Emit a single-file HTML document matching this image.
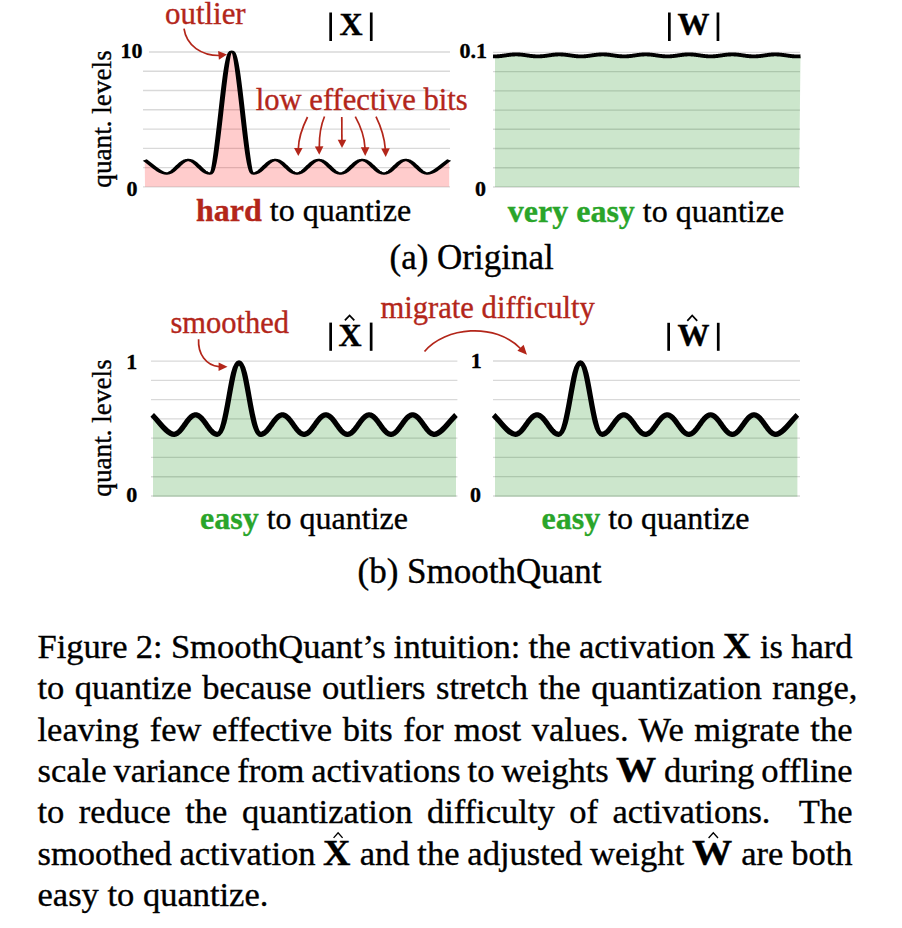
<!DOCTYPE html><html><head><meta charset="utf-8"><style>html,body{margin:0;padding:0;background:#fff;width:902px;height:928px;overflow:hidden}
svg.main{position:absolute;left:0;top:0}
text{font-family:"Liberation Serif",serif}
.cap{position:absolute;left:37.5px;font-family:"Liberation Serif",serif;font-size:34.5px;line-height:0;height:0;white-space:nowrap;color:#000;-webkit-text-stroke:0.35px #000}
.mb{display:inline-block;position:relative;font-weight:bold;font-size:36px;line-height:0;text-indent:0}
.mb .g{display:inline-block;transform-origin:0 0}
.hat{position:absolute;overflow:visible}
</style></head><body>
<svg class="main" width="902" height="928" viewBox="0 0 902 928">
<g stroke="#d9d9d9" stroke-width="1.3"><line x1="149.0" y1="52.00" x2="450.0" y2="52.00"/><line x1="143.0" y1="71.26" x2="450.0" y2="71.26"/><line x1="143.0" y1="90.51" x2="450.0" y2="90.51"/><line x1="143.0" y1="109.77" x2="450.0" y2="109.77"/><line x1="143.0" y1="129.03" x2="450.0" y2="129.03"/><line x1="143.0" y1="148.29" x2="450.0" y2="148.29"/><line x1="143.0" y1="167.54" x2="450.0" y2="167.54"/><line x1="143.0" y1="186.80" x2="450.0" y2="186.80"/></g>
<path d="M144.70,160.00 C150.14,163.38 159.20,173.50 166.45,173.50 L166.45,173.50 L166.95,173.48 L167.45,173.43 L167.95,173.34 L168.45,173.22 L168.95,173.06 L169.45,172.88 L169.95,172.66 L170.45,172.40 L170.95,172.12 L171.45,171.81 L171.95,171.48 L172.45,171.12 L172.95,170.74 L173.45,170.33 L173.95,169.91 L174.45,169.47 L174.95,169.02 L175.45,168.56 L175.95,168.08 L176.45,167.60 L176.95,167.12 L177.45,166.63 L177.95,166.14 L178.45,165.66 L178.95,165.18 L179.45,164.71 L179.95,164.25 L180.45,163.81 L180.95,163.38 L181.45,162.96 L181.95,162.57 L182.45,162.20 L182.95,161.85 L183.45,161.53 L183.95,161.23 L184.45,160.97 L184.95,160.73 L185.45,160.53 L185.95,160.35 L186.45,160.21 L186.95,160.11 L187.45,160.04 L187.95,160.00 L188.45,160.00 L188.95,160.04 L189.45,160.11 L189.95,160.21 L190.45,160.35 L190.95,160.53 L191.45,160.73 L191.95,160.97 L192.45,161.23 L192.95,161.53 L193.45,161.85 L193.95,162.20 L194.45,162.57 L194.95,162.96 L195.45,163.38 L195.95,163.81 L196.45,164.25 L196.95,164.71 L197.45,165.18 L197.95,165.66 L198.45,166.14 L198.95,166.63 L199.45,167.12 L199.95,167.60 L200.45,168.08 L200.95,168.56 L201.45,169.02 L201.95,169.47 L202.45,169.91 L202.95,170.33 L203.45,170.74 L203.95,171.12 L204.45,171.48 L204.95,171.81 L205.45,172.12 L205.95,172.40 L206.45,172.66 L206.95,172.88 L207.45,173.06 L207.95,173.22 L208.45,173.34 L208.95,173.43 L209.45,173.48 L209.95,173.50 C218.05,173.50 223.60,51.60 231.70,51.60 C239.80,51.60 245.35,173.50 253.45,173.50 L253.45,173.50 L253.95,173.48 L254.45,173.43 L254.95,173.34 L255.45,173.22 L255.95,173.06 L256.45,172.88 L256.95,172.66 L257.45,172.40 L257.95,172.12 L258.45,171.81 L258.95,171.48 L259.45,171.12 L259.95,170.74 L260.45,170.33 L260.95,169.91 L261.45,169.47 L261.95,169.02 L262.45,168.56 L262.95,168.08 L263.45,167.60 L263.95,167.12 L264.45,166.63 L264.95,166.14 L265.45,165.66 L265.95,165.18 L266.45,164.71 L266.95,164.25 L267.45,163.81 L267.95,163.38 L268.45,162.96 L268.95,162.57 L269.45,162.20 L269.95,161.85 L270.45,161.53 L270.95,161.23 L271.45,160.97 L271.95,160.73 L272.45,160.53 L272.95,160.35 L273.45,160.21 L273.95,160.11 L274.45,160.04 L274.95,160.00 L275.45,160.00 L275.95,160.04 L276.45,160.11 L276.95,160.21 L277.45,160.35 L277.95,160.53 L278.45,160.73 L278.95,160.97 L279.45,161.23 L279.95,161.53 L280.45,161.85 L280.95,162.20 L281.45,162.57 L281.95,162.96 L282.45,163.38 L282.95,163.81 L283.45,164.25 L283.95,164.71 L284.45,165.18 L284.95,165.66 L285.45,166.14 L285.95,166.63 L286.45,167.12 L286.95,167.60 L287.45,168.08 L287.95,168.56 L288.45,169.02 L288.95,169.47 L289.45,169.91 L289.95,170.33 L290.45,170.74 L290.95,171.12 L291.45,171.48 L291.95,171.81 L292.45,172.12 L292.95,172.40 L293.45,172.66 L293.95,172.88 L294.45,173.06 L294.95,173.22 L295.45,173.34 L295.95,173.43 L296.45,173.48 L296.95,173.50 L297.45,173.48 L297.95,173.43 L298.45,173.34 L298.95,173.22 L299.45,173.06 L299.95,172.88 L300.45,172.66 L300.95,172.40 L301.45,172.12 L301.95,171.81 L302.45,171.48 L302.95,171.12 L303.45,170.74 L303.95,170.33 L304.45,169.91 L304.95,169.47 L305.45,169.02 L305.95,168.56 L306.45,168.08 L306.95,167.60 L307.45,167.12 L307.95,166.63 L308.45,166.14 L308.95,165.66 L309.45,165.18 L309.95,164.71 L310.45,164.25 L310.95,163.81 L311.45,163.38 L311.95,162.96 L312.45,162.57 L312.95,162.20 L313.45,161.85 L313.95,161.53 L314.45,161.23 L314.95,160.97 L315.45,160.73 L315.95,160.53 L316.45,160.35 L316.95,160.21 L317.45,160.11 L317.95,160.04 L318.45,160.00 L318.95,160.00 L319.45,160.04 L319.95,160.11 L320.45,160.21 L320.95,160.35 L321.45,160.53 L321.95,160.73 L322.45,160.97 L322.95,161.23 L323.45,161.53 L323.95,161.85 L324.45,162.20 L324.95,162.57 L325.45,162.96 L325.95,163.38 L326.45,163.81 L326.95,164.25 L327.45,164.71 L327.95,165.18 L328.45,165.66 L328.95,166.14 L329.45,166.63 L329.95,167.12 L330.45,167.60 L330.95,168.08 L331.45,168.56 L331.95,169.02 L332.45,169.47 L332.95,169.91 L333.45,170.33 L333.95,170.74 L334.45,171.12 L334.95,171.48 L335.45,171.81 L335.95,172.12 L336.45,172.40 L336.95,172.66 L337.45,172.88 L337.95,173.06 L338.45,173.22 L338.95,173.34 L339.45,173.43 L339.95,173.48 L340.45,173.50 L340.95,173.48 L341.45,173.43 L341.95,173.34 L342.45,173.22 L342.95,173.06 L343.45,172.88 L343.95,172.66 L344.45,172.40 L344.95,172.12 L345.45,171.81 L345.95,171.48 L346.45,171.12 L346.95,170.74 L347.45,170.33 L347.95,169.91 L348.45,169.47 L348.95,169.02 L349.45,168.56 L349.95,168.08 L350.45,167.60 L350.95,167.12 L351.45,166.63 L351.95,166.14 L352.45,165.66 L352.95,165.18 L353.45,164.71 L353.95,164.25 L354.45,163.81 L354.95,163.38 L355.45,162.96 L355.95,162.57 L356.45,162.20 L356.95,161.85 L357.45,161.53 L357.95,161.23 L358.45,160.97 L358.95,160.73 L359.45,160.53 L359.95,160.35 L360.45,160.21 L360.95,160.11 L361.45,160.04 L361.95,160.00 L362.45,160.00 L362.95,160.04 L363.45,160.11 L363.95,160.21 L364.45,160.35 L364.95,160.53 L365.45,160.73 L365.95,160.97 L366.45,161.23 L366.95,161.53 L367.45,161.85 L367.95,162.20 L368.45,162.57 L368.95,162.96 L369.45,163.38 L369.95,163.81 L370.45,164.25 L370.95,164.71 L371.45,165.18 L371.95,165.66 L372.45,166.14 L372.95,166.63 L373.45,167.12 L373.95,167.60 L374.45,168.08 L374.95,168.56 L375.45,169.02 L375.95,169.47 L376.45,169.91 L376.95,170.33 L377.45,170.74 L377.95,171.12 L378.45,171.48 L378.95,171.81 L379.45,172.12 L379.95,172.40 L380.45,172.66 L380.95,172.88 L381.45,173.06 L381.95,173.22 L382.45,173.34 L382.95,173.43 L383.45,173.48 L383.95,173.50 L384.45,173.48 L384.95,173.43 L385.45,173.34 L385.95,173.22 L386.45,173.06 L386.95,172.88 L387.45,172.66 L387.95,172.40 L388.45,172.12 L388.95,171.81 L389.45,171.48 L389.95,171.12 L390.45,170.74 L390.95,170.33 L391.45,169.91 L391.95,169.47 L392.45,169.02 L392.95,168.56 L393.45,168.08 L393.95,167.60 L394.45,167.12 L394.95,166.63 L395.45,166.14 L395.95,165.66 L396.45,165.18 L396.95,164.71 L397.45,164.25 L397.95,163.81 L398.45,163.38 L398.95,162.96 L399.45,162.57 L399.95,162.20 L400.45,161.85 L400.95,161.53 L401.45,161.23 L401.95,160.97 L402.45,160.73 L402.95,160.53 L403.45,160.35 L403.95,160.21 L404.45,160.11 L404.95,160.04 L405.45,160.00 L405.95,160.00 L406.45,160.04 L406.95,160.11 L407.45,160.21 L407.95,160.35 L408.45,160.53 L408.95,160.73 L409.45,160.97 L409.95,161.23 L410.45,161.53 L410.95,161.85 L411.45,162.20 L411.95,162.57 L412.45,162.96 L412.95,163.37 L413.45,163.81 L413.95,164.25 L414.45,164.71 L414.95,165.18 L415.45,165.66 L415.95,166.14 L416.45,166.63 L416.95,167.12 L417.45,167.60 L417.95,168.08 L418.45,168.56 L418.95,169.02 L419.45,169.47 L419.95,169.91 L420.45,170.33 L420.95,170.74 L421.45,171.12 L421.95,171.48 L422.45,171.81 L422.95,172.12 L423.45,172.40 L423.95,172.66 L424.45,172.88 L424.95,173.06 L425.45,173.22 L425.95,173.34 L426.45,173.43 L426.95,173.48 L427.45,173.50 C434.70,173.50 443.76,163.38 449.20,160.00 L449.20,186.8 L145,186.8 Z" fill="rgba(255,0,0,0.2)"/>
<path transform="matrix(1 0 0 0.4800 0 57.2000)" d="M144.70,214.17 C150.14,221.20 159.20,242.29 166.45,242.29 L166.45,242.29 L166.95,242.26 L167.45,242.15 L167.95,241.96 L168.45,241.71 L168.95,241.38 L169.45,240.99 L169.95,240.53 L170.45,240.01 L170.95,239.42 L171.45,238.78 L171.95,238.08 L172.45,237.33 L172.95,236.54 L173.45,235.70 L173.95,234.82 L174.45,233.90 L174.95,232.96 L175.45,231.99 L175.95,231.00 L176.45,230.00 L176.95,228.99 L177.45,227.98 L177.95,226.96 L178.45,225.95 L178.95,224.96 L179.45,223.98 L179.95,223.02 L180.45,222.10 L180.95,221.20 L181.45,220.34 L181.95,219.52 L182.45,218.74 L182.95,218.02 L183.45,217.35 L183.95,216.73 L184.45,216.18 L184.95,215.69 L185.45,215.26 L185.95,214.90 L186.45,214.61 L186.95,214.40 L187.45,214.25 L187.95,214.18 L188.45,214.18 L188.95,214.25 L189.45,214.40 L189.95,214.61 L190.45,214.90 L190.95,215.26 L191.45,215.69 L191.95,216.18 L192.45,216.73 L192.95,217.35 L193.45,218.02 L193.95,218.74 L194.45,219.52 L194.95,220.34 L195.45,221.20 L195.95,222.10 L196.45,223.02 L196.95,223.98 L197.45,224.96 L197.95,225.95 L198.45,226.96 L198.95,227.98 L199.45,228.99 L199.95,230.00 L200.45,231.00 L200.95,231.99 L201.45,232.96 L201.95,233.90 L202.45,234.82 L202.95,235.70 L203.45,236.54 L203.95,237.33 L204.45,238.08 L204.95,238.78 L205.45,239.42 L205.95,240.01 L206.45,240.53 L206.95,240.99 L207.45,241.38 L207.95,241.71 L208.45,241.96 L208.95,242.15 L209.45,242.26 L209.95,242.29 C218.05,242.29 223.60,-11.67 231.70,-11.67 C239.80,-11.67 245.35,242.29 253.45,242.29 L253.45,242.29 L253.95,242.26 L254.45,242.15 L254.95,241.96 L255.45,241.71 L255.95,241.38 L256.45,240.99 L256.95,240.53 L257.45,240.01 L257.95,239.42 L258.45,238.78 L258.95,238.08 L259.45,237.33 L259.95,236.54 L260.45,235.70 L260.95,234.82 L261.45,233.90 L261.95,232.96 L262.45,231.99 L262.95,231.00 L263.45,230.00 L263.95,228.99 L264.45,227.98 L264.95,226.96 L265.45,225.95 L265.95,224.96 L266.45,223.98 L266.95,223.02 L267.45,222.10 L267.95,221.20 L268.45,220.34 L268.95,219.52 L269.45,218.74 L269.95,218.02 L270.45,217.35 L270.95,216.73 L271.45,216.18 L271.95,215.69 L272.45,215.26 L272.95,214.90 L273.45,214.61 L273.95,214.40 L274.45,214.25 L274.95,214.18 L275.45,214.18 L275.95,214.25 L276.45,214.40 L276.95,214.61 L277.45,214.90 L277.95,215.26 L278.45,215.69 L278.95,216.18 L279.45,216.73 L279.95,217.35 L280.45,218.02 L280.95,218.74 L281.45,219.52 L281.95,220.34 L282.45,221.20 L282.95,222.10 L283.45,223.02 L283.95,223.98 L284.45,224.96 L284.95,225.95 L285.45,226.96 L285.95,227.98 L286.45,228.99 L286.95,230.00 L287.45,231.00 L287.95,231.99 L288.45,232.96 L288.95,233.90 L289.45,234.82 L289.95,235.70 L290.45,236.54 L290.95,237.33 L291.45,238.08 L291.95,238.78 L292.45,239.42 L292.95,240.01 L293.45,240.53 L293.95,240.99 L294.45,241.38 L294.95,241.71 L295.45,241.96 L295.95,242.15 L296.45,242.26 L296.95,242.29 L297.45,242.26 L297.95,242.15 L298.45,241.96 L298.95,241.71 L299.45,241.38 L299.95,240.99 L300.45,240.53 L300.95,240.01 L301.45,239.42 L301.95,238.78 L302.45,238.08 L302.95,237.33 L303.45,236.54 L303.95,235.70 L304.45,234.82 L304.95,233.90 L305.45,232.96 L305.95,231.99 L306.45,231.00 L306.95,230.00 L307.45,228.99 L307.95,227.98 L308.45,226.96 L308.95,225.95 L309.45,224.96 L309.95,223.98 L310.45,223.02 L310.95,222.10 L311.45,221.20 L311.95,220.34 L312.45,219.52 L312.95,218.74 L313.45,218.02 L313.95,217.35 L314.45,216.73 L314.95,216.18 L315.45,215.69 L315.95,215.26 L316.45,214.90 L316.95,214.61 L317.45,214.40 L317.95,214.25 L318.45,214.18 L318.95,214.18 L319.45,214.25 L319.95,214.40 L320.45,214.61 L320.95,214.90 L321.45,215.26 L321.95,215.69 L322.45,216.18 L322.95,216.73 L323.45,217.35 L323.95,218.02 L324.45,218.74 L324.95,219.52 L325.45,220.34 L325.95,221.20 L326.45,222.10 L326.95,223.02 L327.45,223.98 L327.95,224.96 L328.45,225.95 L328.95,226.96 L329.45,227.98 L329.95,228.99 L330.45,230.00 L330.95,231.00 L331.45,231.99 L331.95,232.96 L332.45,233.90 L332.95,234.82 L333.45,235.70 L333.95,236.54 L334.45,237.33 L334.95,238.08 L335.45,238.78 L335.95,239.42 L336.45,240.01 L336.95,240.53 L337.45,240.99 L337.95,241.38 L338.45,241.71 L338.95,241.96 L339.45,242.15 L339.95,242.26 L340.45,242.29 L340.95,242.26 L341.45,242.15 L341.95,241.96 L342.45,241.71 L342.95,241.38 L343.45,240.99 L343.95,240.53 L344.45,240.01 L344.95,239.42 L345.45,238.78 L345.95,238.08 L346.45,237.33 L346.95,236.54 L347.45,235.70 L347.95,234.82 L348.45,233.90 L348.95,232.96 L349.45,231.99 L349.95,231.00 L350.45,230.00 L350.95,228.99 L351.45,227.98 L351.95,226.96 L352.45,225.95 L352.95,224.96 L353.45,223.98 L353.95,223.02 L354.45,222.10 L354.95,221.20 L355.45,220.34 L355.95,219.52 L356.45,218.74 L356.95,218.02 L357.45,217.35 L357.95,216.73 L358.45,216.18 L358.95,215.69 L359.45,215.26 L359.95,214.90 L360.45,214.61 L360.95,214.40 L361.45,214.25 L361.95,214.18 L362.45,214.18 L362.95,214.25 L363.45,214.40 L363.95,214.61 L364.45,214.90 L364.95,215.26 L365.45,215.69 L365.95,216.18 L366.45,216.73 L366.95,217.35 L367.45,218.02 L367.95,218.74 L368.45,219.52 L368.95,220.34 L369.45,221.20 L369.95,222.10 L370.45,223.02 L370.95,223.98 L371.45,224.96 L371.95,225.95 L372.45,226.96 L372.95,227.98 L373.45,228.99 L373.95,230.00 L374.45,231.00 L374.95,231.99 L375.45,232.96 L375.95,233.90 L376.45,234.82 L376.95,235.70 L377.45,236.54 L377.95,237.33 L378.45,238.08 L378.95,238.78 L379.45,239.42 L379.95,240.01 L380.45,240.53 L380.95,240.99 L381.45,241.38 L381.95,241.71 L382.45,241.96 L382.95,242.15 L383.45,242.26 L383.95,242.29 L384.45,242.26 L384.95,242.15 L385.45,241.96 L385.95,241.71 L386.45,241.38 L386.95,240.99 L387.45,240.53 L387.95,240.01 L388.45,239.42 L388.95,238.78 L389.45,238.08 L389.95,237.33 L390.45,236.54 L390.95,235.70 L391.45,234.82 L391.95,233.90 L392.45,232.96 L392.95,231.99 L393.45,231.00 L393.95,230.00 L394.45,228.99 L394.95,227.98 L395.45,226.96 L395.95,225.95 L396.45,224.96 L396.95,223.98 L397.45,223.02 L397.95,222.10 L398.45,221.20 L398.95,220.34 L399.45,219.52 L399.95,218.74 L400.45,218.02 L400.95,217.35 L401.45,216.73 L401.95,216.18 L402.45,215.69 L402.95,215.26 L403.45,214.90 L403.95,214.61 L404.45,214.40 L404.95,214.25 L405.45,214.18 L405.95,214.18 L406.45,214.25 L406.95,214.40 L407.45,214.61 L407.95,214.90 L408.45,215.26 L408.95,215.69 L409.45,216.18 L409.95,216.73 L410.45,217.35 L410.95,218.02 L411.45,218.74 L411.95,219.52 L412.45,220.34 L412.95,221.20 L413.45,222.10 L413.95,223.02 L414.45,223.98 L414.95,224.96 L415.45,225.95 L415.95,226.96 L416.45,227.98 L416.95,228.99 L417.45,230.00 L417.95,231.00 L418.45,231.99 L418.95,232.96 L419.45,233.90 L419.95,234.82 L420.45,235.70 L420.95,236.54 L421.45,237.33 L421.95,238.08 L422.45,238.78 L422.95,239.42 L423.45,240.01 L423.95,240.53 L424.45,240.99 L424.95,241.38 L425.45,241.71 L425.95,241.96 L426.45,242.15 L426.95,242.26 L427.45,242.29 C434.70,242.29 443.76,221.20 449.20,214.17" fill="none" stroke="#000" stroke-width="5" stroke-linejoin="round"/>
<g stroke="#d9d9d9" stroke-width="1.3"><line x1="493.0" y1="52.30" x2="800.0" y2="52.30"/><line x1="493.0" y1="71.54" x2="800.0" y2="71.54"/><line x1="493.0" y1="90.79" x2="800.0" y2="90.79"/><line x1="493.0" y1="110.03" x2="800.0" y2="110.03"/><line x1="493.0" y1="129.27" x2="800.0" y2="129.27"/><line x1="493.0" y1="148.51" x2="800.0" y2="148.51"/><line x1="493.0" y1="167.76" x2="800.0" y2="167.76"/><line x1="493.0" y1="187.00" x2="800.0" y2="187.00"/></g>
<path d="M493.00,56.37 L493.50,56.39 L494.00,56.40 L494.50,56.40 L495.00,56.40 L495.50,56.39 L496.00,56.38 L496.50,56.36 L497.00,56.34 L497.50,56.31 L498.00,56.28 L498.50,56.24 L499.00,56.20 L499.50,56.16 L500.00,56.11 L500.50,56.05 L501.00,56.00 L501.50,55.94 L502.00,55.87 L502.50,55.81 L503.00,55.74 L503.50,55.67 L504.00,55.60 L504.50,55.53 L505.00,55.46 L505.50,55.39 L506.00,55.31 L506.50,55.24 L507.00,55.17 L507.50,55.10 L508.00,55.03 L508.50,54.96 L509.00,54.90 L509.50,54.84 L510.00,54.78 L510.50,54.72 L511.00,54.67 L511.50,54.62 L512.00,54.58 L512.50,54.54 L513.00,54.51 L513.50,54.48 L514.00,54.45 L514.50,54.43 L515.00,54.42 L515.50,54.41 L516.00,54.40 L516.50,54.40 L517.00,54.41 L517.50,54.42 L518.00,54.43 L518.50,54.46 L519.00,54.48 L519.50,54.51 L520.00,54.55 L520.50,54.59 L521.00,54.63 L521.50,54.68 L522.00,54.74 L522.50,54.79 L523.00,54.85 L523.50,54.91 L524.00,54.98 L524.50,55.04 L525.00,55.11 L525.50,55.18 L526.00,55.26 L526.50,55.33 L527.00,55.40 L527.50,55.47 L528.00,55.54 L528.50,55.62 L529.00,55.69 L529.50,55.76 L530.00,55.82 L530.50,55.89 L531.00,55.95 L531.50,56.01 L532.00,56.06 L532.50,56.12 L533.00,56.17 L533.50,56.21 L534.00,56.25 L534.50,56.29 L535.00,56.32 L535.50,56.34 L536.00,56.37 L536.50,56.38 L537.00,56.39 L537.50,56.40 L538.00,56.40 L538.50,56.39 L539.00,56.38 L539.50,56.37 L540.00,56.35 L540.50,56.32 L541.00,56.29 L541.50,56.26 L542.00,56.22 L542.50,56.18 L543.00,56.13 L543.50,56.08 L544.00,56.02 L544.50,55.96 L545.00,55.90 L545.50,55.84 L546.00,55.77 L546.50,55.70 L547.00,55.63 L547.50,55.56 L548.00,55.49 L548.50,55.41 L549.00,55.34 L549.50,55.27 L550.00,55.20 L550.50,55.13 L551.00,55.06 L551.50,54.99 L552.00,54.93 L552.50,54.86 L553.00,54.80 L553.50,54.75 L554.00,54.69 L554.50,54.64 L555.00,54.60 L555.50,54.56 L556.00,54.52 L556.50,54.49 L557.00,54.46 L557.50,54.44 L558.00,54.42 L558.50,54.41 L559.00,54.40 L559.50,54.40 L560.00,54.40 L560.50,54.41 L561.00,54.43 L561.50,54.45 L562.00,54.47 L562.50,54.50 L563.00,54.53 L563.50,54.57 L564.00,54.62 L564.50,54.66 L565.00,54.71 L565.50,54.77 L566.00,54.83 L566.50,54.89 L567.00,54.95 L567.50,55.02 L568.00,55.09 L568.50,55.16 L569.00,55.23 L569.50,55.30 L570.00,55.37 L570.50,55.44 L571.00,55.52 L571.50,55.59 L572.00,55.66 L572.50,55.73 L573.00,55.80 L573.50,55.86 L574.00,55.92 L574.50,55.99 L575.00,56.04 L575.50,56.10 L576.00,56.15 L576.50,56.19 L577.00,56.24 L577.50,56.27 L578.00,56.31 L578.50,56.33 L579.00,56.36 L579.50,56.38 L580.00,56.39 L580.50,56.40 L581.00,56.40 L581.50,56.40 L582.00,56.39 L582.50,56.38 L583.00,56.36 L583.50,56.33 L584.00,56.31 L584.50,56.27 L585.00,56.24 L585.50,56.19 L586.00,56.15 L586.50,56.10 L587.00,56.04 L587.50,55.99 L588.00,55.92 L588.50,55.86 L589.00,55.80 L589.50,55.73 L590.00,55.66 L590.50,55.59 L591.00,55.52 L591.50,55.44 L592.00,55.37 L592.50,55.30 L593.00,55.23 L593.50,55.16 L594.00,55.09 L594.50,55.02 L595.00,54.95 L595.50,54.89 L596.00,54.83 L596.50,54.77 L597.00,54.71 L597.50,54.66 L598.00,54.62 L598.50,54.57 L599.00,54.53 L599.50,54.50 L600.00,54.47 L600.50,54.45 L601.00,54.43 L601.50,54.41 L602.00,54.40 L602.50,54.40 L603.00,54.40 L603.50,54.41 L604.00,54.42 L604.50,54.44 L605.00,54.46 L605.50,54.49 L606.00,54.52 L606.50,54.56 L607.00,54.60 L607.50,54.64 L608.00,54.69 L608.50,54.75 L609.00,54.80 L609.50,54.86 L610.00,54.93 L610.50,54.99 L611.00,55.06 L611.50,55.13 L612.00,55.20 L612.50,55.27 L613.00,55.34 L613.50,55.41 L614.00,55.49 L614.50,55.56 L615.00,55.63 L615.50,55.70 L616.00,55.77 L616.50,55.84 L617.00,55.90 L617.50,55.96 L618.00,56.02 L618.50,56.08 L619.00,56.13 L619.50,56.18 L620.00,56.22 L620.50,56.26 L621.00,56.29 L621.50,56.32 L622.00,56.35 L622.50,56.37 L623.00,56.38 L623.50,56.39 L624.00,56.40 L624.50,56.40 L625.00,56.39 L625.50,56.38 L626.00,56.37 L626.50,56.34 L627.00,56.32 L627.50,56.29 L628.00,56.25 L628.50,56.21 L629.00,56.17 L629.50,56.12 L630.00,56.06 L630.50,56.01 L631.00,55.95 L631.50,55.89 L632.00,55.82 L632.50,55.76 L633.00,55.69 L633.50,55.62 L634.00,55.54 L634.50,55.47 L635.00,55.40 L635.50,55.33 L636.00,55.26 L636.50,55.18 L637.00,55.11 L637.50,55.04 L638.00,54.98 L638.50,54.91 L639.00,54.85 L639.50,54.79 L640.00,54.74 L640.50,54.68 L641.00,54.63 L641.50,54.59 L642.00,54.55 L642.50,54.51 L643.00,54.48 L643.50,54.46 L644.00,54.43 L644.50,54.42 L645.00,54.41 L645.50,54.40 L646.00,54.40 L646.50,54.41 L647.00,54.42 L647.50,54.43 L648.00,54.45 L648.50,54.48 L649.00,54.51 L649.50,54.54 L650.00,54.58 L650.50,54.62 L651.00,54.67 L651.50,54.72 L652.00,54.78 L652.50,54.84 L653.00,54.90 L653.50,54.96 L654.00,55.03 L654.50,55.10 L655.00,55.17 L655.50,55.24 L656.00,55.31 L656.50,55.39 L657.00,55.46 L657.50,55.53 L658.00,55.60 L658.50,55.67 L659.00,55.74 L659.50,55.81 L660.00,55.87 L660.50,55.94 L661.00,56.00 L661.50,56.05 L662.00,56.11 L662.50,56.16 L663.00,56.20 L663.50,56.24 L664.00,56.28 L664.50,56.31 L665.00,56.34 L665.50,56.36 L666.00,56.38 L666.50,56.39 L667.00,56.40 L667.50,56.40 L668.00,56.40 L668.50,56.39 L669.00,56.37 L669.50,56.35 L670.00,56.33 L670.50,56.30 L671.00,56.27 L671.50,56.23 L672.00,56.18 L672.50,56.14 L673.00,56.09 L673.50,56.03 L674.00,55.97 L674.50,55.91 L675.00,55.85 L675.50,55.78 L676.00,55.71 L676.50,55.64 L677.00,55.57 L677.50,55.50 L678.00,55.43 L678.50,55.36 L679.00,55.28 L679.50,55.21 L680.00,55.14 L680.50,55.07 L681.00,55.00 L681.50,54.94 L682.00,54.88 L682.50,54.81 L683.00,54.76 L683.50,54.70 L684.00,54.65 L684.50,54.61 L685.00,54.56 L685.50,54.53 L686.00,54.49 L686.50,54.47 L687.00,54.44 L687.50,54.42 L688.00,54.41 L688.50,54.40 L689.00,54.40 L689.50,54.40 L690.00,54.41 L690.50,54.42 L691.00,54.44 L691.50,54.47 L692.00,54.49 L692.50,54.53 L693.00,54.56 L693.50,54.61 L694.00,54.65 L694.50,54.70 L695.00,54.76 L695.50,54.81 L696.00,54.88 L696.50,54.94 L697.00,55.00 L697.50,55.07 L698.00,55.14 L698.50,55.21 L699.00,55.28 L699.50,55.36 L700.00,55.43 L700.50,55.50 L701.00,55.57 L701.50,55.64 L702.00,55.71 L702.50,55.78 L703.00,55.85 L703.50,55.91 L704.00,55.97 L704.50,56.03 L705.00,56.09 L705.50,56.14 L706.00,56.18 L706.50,56.23 L707.00,56.27 L707.50,56.30 L708.00,56.33 L708.50,56.35 L709.00,56.37 L709.50,56.39 L710.00,56.40 L710.50,56.40 L711.00,56.40 L711.50,56.39 L712.00,56.38 L712.50,56.36 L713.00,56.34 L713.50,56.31 L714.00,56.28 L714.50,56.24 L715.00,56.20 L715.50,56.16 L716.00,56.11 L716.50,56.05 L717.00,56.00 L717.50,55.94 L718.00,55.87 L718.50,55.81 L719.00,55.74 L719.50,55.67 L720.00,55.60 L720.50,55.53 L721.00,55.46 L721.50,55.39 L722.00,55.31 L722.50,55.24 L723.00,55.17 L723.50,55.10 L724.00,55.03 L724.50,54.96 L725.00,54.90 L725.50,54.84 L726.00,54.78 L726.50,54.72 L727.00,54.67 L727.50,54.62 L728.00,54.58 L728.50,54.54 L729.00,54.51 L729.50,54.48 L730.00,54.45 L730.50,54.43 L731.00,54.42 L731.50,54.41 L732.00,54.40 L732.50,54.40 L733.00,54.41 L733.50,54.42 L734.00,54.43 L734.50,54.46 L735.00,54.48 L735.50,54.51 L736.00,54.55 L736.50,54.59 L737.00,54.63 L737.50,54.68 L738.00,54.74 L738.50,54.79 L739.00,54.85 L739.50,54.91 L740.00,54.98 L740.50,55.04 L741.00,55.11 L741.50,55.18 L742.00,55.26 L742.50,55.33 L743.00,55.40 L743.50,55.47 L744.00,55.54 L744.50,55.62 L745.00,55.69 L745.50,55.76 L746.00,55.82 L746.50,55.89 L747.00,55.95 L747.50,56.01 L748.00,56.06 L748.50,56.12 L749.00,56.17 L749.50,56.21 L750.00,56.25 L750.50,56.29 L751.00,56.32 L751.50,56.34 L752.00,56.37 L752.50,56.38 L753.00,56.39 L753.50,56.40 L754.00,56.40 L754.50,56.39 L755.00,56.38 L755.50,56.37 L756.00,56.35 L756.50,56.32 L757.00,56.29 L757.50,56.26 L758.00,56.22 L758.50,56.18 L759.00,56.13 L759.50,56.08 L760.00,56.02 L760.50,55.96 L761.00,55.90 L761.50,55.84 L762.00,55.77 L762.50,55.70 L763.00,55.63 L763.50,55.56 L764.00,55.49 L764.50,55.41 L765.00,55.34 L765.50,55.27 L766.00,55.20 L766.50,55.13 L767.00,55.06 L767.50,54.99 L768.00,54.93 L768.50,54.86 L769.00,54.80 L769.50,54.75 L770.00,54.69 L770.50,54.64 L771.00,54.60 L771.50,54.56 L772.00,54.52 L772.50,54.49 L773.00,54.46 L773.50,54.44 L774.00,54.42 L774.50,54.41 L775.00,54.40 L775.50,54.40 L776.00,54.40 L776.50,54.41 L777.00,54.43 L777.50,54.45 L778.00,54.47 L778.50,54.50 L779.00,54.53 L779.50,54.57 L780.00,54.62 L780.50,54.66 L781.00,54.71 L781.50,54.77 L782.00,54.83 L782.50,54.89 L783.00,54.95 L783.50,55.02 L784.00,55.09 L784.50,55.16 L785.00,55.23 L785.50,55.30 L786.00,55.37 L786.50,55.44 L787.00,55.52 L787.50,55.59 L788.00,55.66 L788.50,55.73 L789.00,55.80 L789.50,55.86 L790.00,55.92 L790.50,55.99 L791.00,56.04 L791.50,56.10 L792.00,56.15 L792.50,56.19 L793.00,56.24 L793.50,56.27 L794.00,56.31 L794.50,56.33 L795.00,56.36 L795.50,56.38 L796.00,56.39 L796.50,56.40 L797.00,56.40 L797.50,56.40 L798.00,56.39 L798.50,56.38 L799.00,56.36 L799.50,56.33 L800.00,56.31 L800.50,56.27 L799,187 L495,187 L495,57 Z" fill="rgba(0,128,0,0.2)"/>
<path d="M493.00,56.37 L493.50,56.39 L494.00,56.40 L494.50,56.40 L495.00,56.40 L495.50,56.39 L496.00,56.38 L496.50,56.36 L497.00,56.34 L497.50,56.31 L498.00,56.28 L498.50,56.24 L499.00,56.20 L499.50,56.16 L500.00,56.11 L500.50,56.05 L501.00,56.00 L501.50,55.94 L502.00,55.87 L502.50,55.81 L503.00,55.74 L503.50,55.67 L504.00,55.60 L504.50,55.53 L505.00,55.46 L505.50,55.39 L506.00,55.31 L506.50,55.24 L507.00,55.17 L507.50,55.10 L508.00,55.03 L508.50,54.96 L509.00,54.90 L509.50,54.84 L510.00,54.78 L510.50,54.72 L511.00,54.67 L511.50,54.62 L512.00,54.58 L512.50,54.54 L513.00,54.51 L513.50,54.48 L514.00,54.45 L514.50,54.43 L515.00,54.42 L515.50,54.41 L516.00,54.40 L516.50,54.40 L517.00,54.41 L517.50,54.42 L518.00,54.43 L518.50,54.46 L519.00,54.48 L519.50,54.51 L520.00,54.55 L520.50,54.59 L521.00,54.63 L521.50,54.68 L522.00,54.74 L522.50,54.79 L523.00,54.85 L523.50,54.91 L524.00,54.98 L524.50,55.04 L525.00,55.11 L525.50,55.18 L526.00,55.26 L526.50,55.33 L527.00,55.40 L527.50,55.47 L528.00,55.54 L528.50,55.62 L529.00,55.69 L529.50,55.76 L530.00,55.82 L530.50,55.89 L531.00,55.95 L531.50,56.01 L532.00,56.06 L532.50,56.12 L533.00,56.17 L533.50,56.21 L534.00,56.25 L534.50,56.29 L535.00,56.32 L535.50,56.34 L536.00,56.37 L536.50,56.38 L537.00,56.39 L537.50,56.40 L538.00,56.40 L538.50,56.39 L539.00,56.38 L539.50,56.37 L540.00,56.35 L540.50,56.32 L541.00,56.29 L541.50,56.26 L542.00,56.22 L542.50,56.18 L543.00,56.13 L543.50,56.08 L544.00,56.02 L544.50,55.96 L545.00,55.90 L545.50,55.84 L546.00,55.77 L546.50,55.70 L547.00,55.63 L547.50,55.56 L548.00,55.49 L548.50,55.41 L549.00,55.34 L549.50,55.27 L550.00,55.20 L550.50,55.13 L551.00,55.06 L551.50,54.99 L552.00,54.93 L552.50,54.86 L553.00,54.80 L553.50,54.75 L554.00,54.69 L554.50,54.64 L555.00,54.60 L555.50,54.56 L556.00,54.52 L556.50,54.49 L557.00,54.46 L557.50,54.44 L558.00,54.42 L558.50,54.41 L559.00,54.40 L559.50,54.40 L560.00,54.40 L560.50,54.41 L561.00,54.43 L561.50,54.45 L562.00,54.47 L562.50,54.50 L563.00,54.53 L563.50,54.57 L564.00,54.62 L564.50,54.66 L565.00,54.71 L565.50,54.77 L566.00,54.83 L566.50,54.89 L567.00,54.95 L567.50,55.02 L568.00,55.09 L568.50,55.16 L569.00,55.23 L569.50,55.30 L570.00,55.37 L570.50,55.44 L571.00,55.52 L571.50,55.59 L572.00,55.66 L572.50,55.73 L573.00,55.80 L573.50,55.86 L574.00,55.92 L574.50,55.99 L575.00,56.04 L575.50,56.10 L576.00,56.15 L576.50,56.19 L577.00,56.24 L577.50,56.27 L578.00,56.31 L578.50,56.33 L579.00,56.36 L579.50,56.38 L580.00,56.39 L580.50,56.40 L581.00,56.40 L581.50,56.40 L582.00,56.39 L582.50,56.38 L583.00,56.36 L583.50,56.33 L584.00,56.31 L584.50,56.27 L585.00,56.24 L585.50,56.19 L586.00,56.15 L586.50,56.10 L587.00,56.04 L587.50,55.99 L588.00,55.92 L588.50,55.86 L589.00,55.80 L589.50,55.73 L590.00,55.66 L590.50,55.59 L591.00,55.52 L591.50,55.44 L592.00,55.37 L592.50,55.30 L593.00,55.23 L593.50,55.16 L594.00,55.09 L594.50,55.02 L595.00,54.95 L595.50,54.89 L596.00,54.83 L596.50,54.77 L597.00,54.71 L597.50,54.66 L598.00,54.62 L598.50,54.57 L599.00,54.53 L599.50,54.50 L600.00,54.47 L600.50,54.45 L601.00,54.43 L601.50,54.41 L602.00,54.40 L602.50,54.40 L603.00,54.40 L603.50,54.41 L604.00,54.42 L604.50,54.44 L605.00,54.46 L605.50,54.49 L606.00,54.52 L606.50,54.56 L607.00,54.60 L607.50,54.64 L608.00,54.69 L608.50,54.75 L609.00,54.80 L609.50,54.86 L610.00,54.93 L610.50,54.99 L611.00,55.06 L611.50,55.13 L612.00,55.20 L612.50,55.27 L613.00,55.34 L613.50,55.41 L614.00,55.49 L614.50,55.56 L615.00,55.63 L615.50,55.70 L616.00,55.77 L616.50,55.84 L617.00,55.90 L617.50,55.96 L618.00,56.02 L618.50,56.08 L619.00,56.13 L619.50,56.18 L620.00,56.22 L620.50,56.26 L621.00,56.29 L621.50,56.32 L622.00,56.35 L622.50,56.37 L623.00,56.38 L623.50,56.39 L624.00,56.40 L624.50,56.40 L625.00,56.39 L625.50,56.38 L626.00,56.37 L626.50,56.34 L627.00,56.32 L627.50,56.29 L628.00,56.25 L628.50,56.21 L629.00,56.17 L629.50,56.12 L630.00,56.06 L630.50,56.01 L631.00,55.95 L631.50,55.89 L632.00,55.82 L632.50,55.76 L633.00,55.69 L633.50,55.62 L634.00,55.54 L634.50,55.47 L635.00,55.40 L635.50,55.33 L636.00,55.26 L636.50,55.18 L637.00,55.11 L637.50,55.04 L638.00,54.98 L638.50,54.91 L639.00,54.85 L639.50,54.79 L640.00,54.74 L640.50,54.68 L641.00,54.63 L641.50,54.59 L642.00,54.55 L642.50,54.51 L643.00,54.48 L643.50,54.46 L644.00,54.43 L644.50,54.42 L645.00,54.41 L645.50,54.40 L646.00,54.40 L646.50,54.41 L647.00,54.42 L647.50,54.43 L648.00,54.45 L648.50,54.48 L649.00,54.51 L649.50,54.54 L650.00,54.58 L650.50,54.62 L651.00,54.67 L651.50,54.72 L652.00,54.78 L652.50,54.84 L653.00,54.90 L653.50,54.96 L654.00,55.03 L654.50,55.10 L655.00,55.17 L655.50,55.24 L656.00,55.31 L656.50,55.39 L657.00,55.46 L657.50,55.53 L658.00,55.60 L658.50,55.67 L659.00,55.74 L659.50,55.81 L660.00,55.87 L660.50,55.94 L661.00,56.00 L661.50,56.05 L662.00,56.11 L662.50,56.16 L663.00,56.20 L663.50,56.24 L664.00,56.28 L664.50,56.31 L665.00,56.34 L665.50,56.36 L666.00,56.38 L666.50,56.39 L667.00,56.40 L667.50,56.40 L668.00,56.40 L668.50,56.39 L669.00,56.37 L669.50,56.35 L670.00,56.33 L670.50,56.30 L671.00,56.27 L671.50,56.23 L672.00,56.18 L672.50,56.14 L673.00,56.09 L673.50,56.03 L674.00,55.97 L674.50,55.91 L675.00,55.85 L675.50,55.78 L676.00,55.71 L676.50,55.64 L677.00,55.57 L677.50,55.50 L678.00,55.43 L678.50,55.36 L679.00,55.28 L679.50,55.21 L680.00,55.14 L680.50,55.07 L681.00,55.00 L681.50,54.94 L682.00,54.88 L682.50,54.81 L683.00,54.76 L683.50,54.70 L684.00,54.65 L684.50,54.61 L685.00,54.56 L685.50,54.53 L686.00,54.49 L686.50,54.47 L687.00,54.44 L687.50,54.42 L688.00,54.41 L688.50,54.40 L689.00,54.40 L689.50,54.40 L690.00,54.41 L690.50,54.42 L691.00,54.44 L691.50,54.47 L692.00,54.49 L692.50,54.53 L693.00,54.56 L693.50,54.61 L694.00,54.65 L694.50,54.70 L695.00,54.76 L695.50,54.81 L696.00,54.88 L696.50,54.94 L697.00,55.00 L697.50,55.07 L698.00,55.14 L698.50,55.21 L699.00,55.28 L699.50,55.36 L700.00,55.43 L700.50,55.50 L701.00,55.57 L701.50,55.64 L702.00,55.71 L702.50,55.78 L703.00,55.85 L703.50,55.91 L704.00,55.97 L704.50,56.03 L705.00,56.09 L705.50,56.14 L706.00,56.18 L706.50,56.23 L707.00,56.27 L707.50,56.30 L708.00,56.33 L708.50,56.35 L709.00,56.37 L709.50,56.39 L710.00,56.40 L710.50,56.40 L711.00,56.40 L711.50,56.39 L712.00,56.38 L712.50,56.36 L713.00,56.34 L713.50,56.31 L714.00,56.28 L714.50,56.24 L715.00,56.20 L715.50,56.16 L716.00,56.11 L716.50,56.05 L717.00,56.00 L717.50,55.94 L718.00,55.87 L718.50,55.81 L719.00,55.74 L719.50,55.67 L720.00,55.60 L720.50,55.53 L721.00,55.46 L721.50,55.39 L722.00,55.31 L722.50,55.24 L723.00,55.17 L723.50,55.10 L724.00,55.03 L724.50,54.96 L725.00,54.90 L725.50,54.84 L726.00,54.78 L726.50,54.72 L727.00,54.67 L727.50,54.62 L728.00,54.58 L728.50,54.54 L729.00,54.51 L729.50,54.48 L730.00,54.45 L730.50,54.43 L731.00,54.42 L731.50,54.41 L732.00,54.40 L732.50,54.40 L733.00,54.41 L733.50,54.42 L734.00,54.43 L734.50,54.46 L735.00,54.48 L735.50,54.51 L736.00,54.55 L736.50,54.59 L737.00,54.63 L737.50,54.68 L738.00,54.74 L738.50,54.79 L739.00,54.85 L739.50,54.91 L740.00,54.98 L740.50,55.04 L741.00,55.11 L741.50,55.18 L742.00,55.26 L742.50,55.33 L743.00,55.40 L743.50,55.47 L744.00,55.54 L744.50,55.62 L745.00,55.69 L745.50,55.76 L746.00,55.82 L746.50,55.89 L747.00,55.95 L747.50,56.01 L748.00,56.06 L748.50,56.12 L749.00,56.17 L749.50,56.21 L750.00,56.25 L750.50,56.29 L751.00,56.32 L751.50,56.34 L752.00,56.37 L752.50,56.38 L753.00,56.39 L753.50,56.40 L754.00,56.40 L754.50,56.39 L755.00,56.38 L755.50,56.37 L756.00,56.35 L756.50,56.32 L757.00,56.29 L757.50,56.26 L758.00,56.22 L758.50,56.18 L759.00,56.13 L759.50,56.08 L760.00,56.02 L760.50,55.96 L761.00,55.90 L761.50,55.84 L762.00,55.77 L762.50,55.70 L763.00,55.63 L763.50,55.56 L764.00,55.49 L764.50,55.41 L765.00,55.34 L765.50,55.27 L766.00,55.20 L766.50,55.13 L767.00,55.06 L767.50,54.99 L768.00,54.93 L768.50,54.86 L769.00,54.80 L769.50,54.75 L770.00,54.69 L770.50,54.64 L771.00,54.60 L771.50,54.56 L772.00,54.52 L772.50,54.49 L773.00,54.46 L773.50,54.44 L774.00,54.42 L774.50,54.41 L775.00,54.40 L775.50,54.40 L776.00,54.40 L776.50,54.41 L777.00,54.43 L777.50,54.45 L778.00,54.47 L778.50,54.50 L779.00,54.53 L779.50,54.57 L780.00,54.62 L780.50,54.66 L781.00,54.71 L781.50,54.77 L782.00,54.83 L782.50,54.89 L783.00,54.95 L783.50,55.02 L784.00,55.09 L784.50,55.16 L785.00,55.23 L785.50,55.30 L786.00,55.37 L786.50,55.44 L787.00,55.52 L787.50,55.59 L788.00,55.66 L788.50,55.73 L789.00,55.80 L789.50,55.86 L790.00,55.92 L790.50,55.99 L791.00,56.04 L791.50,56.10 L792.00,56.15 L792.50,56.19 L793.00,56.24 L793.50,56.27 L794.00,56.31 L794.50,56.33 L795.00,56.36 L795.50,56.38 L796.00,56.39 L796.50,56.40 L797.00,56.40 L797.50,56.40 L798.00,56.39 L798.50,56.38 L799.00,56.36 L799.50,56.33 L800.00,56.31 L800.50,56.27" fill="none" stroke="#000" stroke-width="3.9"/>
<g stroke="#d9d9d9" stroke-width="1.3"><line x1="151.0" y1="361.10" x2="457.4" y2="361.10"/><line x1="151.0" y1="380.37" x2="457.4" y2="380.37"/><line x1="151.0" y1="399.64" x2="457.4" y2="399.64"/><line x1="151.0" y1="418.91" x2="457.4" y2="418.91"/><line x1="151.0" y1="438.19" x2="457.4" y2="438.19"/><line x1="151.0" y1="457.46" x2="457.4" y2="457.46"/><line x1="151.0" y1="476.73" x2="457.4" y2="476.73"/><line x1="151.0" y1="496.00" x2="457.4" y2="496.00"/></g>
<path d="M152.20,414.90 C157.62,419.75 166.67,434.30 173.90,434.30 L173.90,434.30 L174.40,434.27 L174.90,434.20 L175.40,434.07 L175.90,433.90 L176.40,433.67 L176.90,433.40 L177.40,433.08 L177.90,432.72 L178.40,432.31 L178.90,431.87 L179.40,431.38 L179.90,430.86 L180.40,430.31 L180.90,429.73 L181.40,429.12 L181.90,428.49 L182.40,427.84 L182.90,427.17 L183.40,426.48 L183.90,425.79 L184.40,425.09 L184.90,424.39 L185.40,423.69 L185.90,422.99 L186.40,422.30 L186.90,421.63 L187.40,420.97 L187.90,420.33 L188.40,419.71 L188.90,419.12 L189.40,418.55 L189.90,418.02 L190.40,417.52 L190.90,417.06 L191.40,416.64 L191.90,416.26 L192.40,415.92 L192.90,415.63 L193.40,415.39 L193.90,415.19 L194.40,415.05 L194.90,414.95 L195.40,414.90 L195.90,414.91 L196.40,414.96 L196.90,415.07 L197.40,415.23 L197.90,415.43 L198.40,415.69 L198.90,415.99 L199.40,416.33 L199.90,416.72 L200.40,417.15 L200.90,417.62 L201.40,418.12 L201.90,418.66 L202.40,419.23 L202.90,419.83 L203.40,420.45 L203.90,421.10 L204.40,421.76 L204.90,422.44 L205.40,423.13 L205.90,423.83 L206.40,424.53 L206.90,425.23 L207.40,425.93 L207.90,426.62 L208.40,427.30 L208.90,427.97 L209.40,428.62 L209.90,429.25 L210.40,429.85 L210.90,430.43 L211.40,430.97 L211.90,431.48 L212.40,431.96 L212.90,432.40 L213.40,432.79 L213.90,433.15 L214.40,433.46 L214.90,433.72 L215.40,433.94 L215.90,434.10 L216.40,434.22 L216.90,434.28 L217.30,434.30 C227.30,434.30 230.40,363.00 239.00,363.00 C247.60,363.00 250.70,434.30 260.70,434.30 L260.70,434.30 L261.20,434.27 L261.70,434.20 L262.20,434.07 L262.70,433.90 L263.20,433.67 L263.70,433.40 L264.20,433.08 L264.70,432.72 L265.20,432.31 L265.70,431.87 L266.20,431.38 L266.70,430.86 L267.20,430.31 L267.70,429.73 L268.20,429.12 L268.70,428.49 L269.20,427.84 L269.70,427.17 L270.20,426.48 L270.70,425.79 L271.20,425.09 L271.70,424.39 L272.20,423.69 L272.70,422.99 L273.20,422.30 L273.70,421.63 L274.20,420.97 L274.70,420.33 L275.20,419.71 L275.70,419.12 L276.20,418.55 L276.70,418.02 L277.20,417.52 L277.70,417.06 L278.20,416.64 L278.70,416.26 L279.20,415.92 L279.70,415.63 L280.20,415.39 L280.70,415.19 L281.20,415.05 L281.70,414.95 L282.20,414.90 L282.70,414.91 L283.20,414.96 L283.70,415.07 L284.20,415.23 L284.70,415.43 L285.20,415.69 L285.70,415.99 L286.20,416.33 L286.70,416.72 L287.20,417.15 L287.70,417.62 L288.20,418.12 L288.70,418.66 L289.20,419.23 L289.70,419.83 L290.20,420.45 L290.70,421.10 L291.20,421.76 L291.70,422.44 L292.20,423.13 L292.70,423.83 L293.20,424.53 L293.70,425.23 L294.20,425.93 L294.70,426.62 L295.20,427.30 L295.70,427.97 L296.20,428.62 L296.70,429.25 L297.20,429.85 L297.70,430.43 L298.20,430.97 L298.70,431.48 L299.20,431.96 L299.70,432.40 L300.20,432.79 L300.70,433.15 L301.20,433.46 L301.70,433.72 L302.20,433.94 L302.70,434.10 L303.20,434.22 L303.70,434.28 L304.20,434.30 L304.70,434.26 L305.20,434.18 L305.70,434.04 L306.20,433.86 L306.70,433.62 L307.20,433.34 L307.70,433.01 L308.20,432.64 L308.70,432.23 L309.20,431.77 L309.70,431.28 L310.20,430.76 L310.70,430.20 L311.20,429.61 L311.70,429.00 L312.20,428.36 L312.70,427.70 L313.20,427.03 L313.70,426.35 L314.20,425.65 L314.70,424.95 L315.20,424.25 L315.70,423.55 L316.20,422.85 L316.70,422.17 L317.20,421.50 L317.70,420.84 L318.20,420.20 L318.70,419.59 L319.20,419.00 L319.70,418.44 L320.20,417.92 L320.70,417.43 L321.20,416.97 L321.70,416.56 L322.20,416.19 L322.70,415.86 L323.20,415.58 L323.70,415.34 L324.20,415.16 L324.70,415.02 L325.20,414.94 L325.70,414.90 L326.20,414.92 L326.70,414.98 L327.20,415.10 L327.70,415.26 L328.20,415.48 L328.70,415.74 L329.20,416.05 L329.70,416.41 L330.20,416.80 L330.70,417.24 L331.20,417.72 L331.70,418.23 L332.20,418.77 L332.70,419.35 L333.20,419.95 L333.70,420.58 L334.20,421.23 L334.70,421.90 L335.20,422.58 L335.70,423.27 L336.20,423.97 L336.70,424.67 L337.20,425.37 L337.70,426.07 L338.20,426.76 L338.70,427.44 L339.20,428.10 L339.70,428.75 L340.20,429.37 L340.70,429.97 L341.20,430.54 L341.70,431.08 L342.20,431.58 L342.70,432.05 L343.20,432.48 L343.70,432.87 L344.20,433.21 L344.70,433.51 L345.20,433.77 L345.70,433.97 L346.20,434.13 L346.70,434.24 L347.20,434.29 L347.70,434.30 L348.20,434.25 L348.70,434.15 L349.20,434.01 L349.70,433.81 L350.20,433.57 L350.70,433.28 L351.20,432.94 L351.70,432.56 L352.20,432.14 L352.70,431.68 L353.20,431.18 L353.70,430.65 L354.20,430.08 L354.70,429.49 L355.20,428.87 L355.70,428.23 L356.20,427.57 L356.70,426.90 L357.20,426.21 L357.70,425.51 L358.20,424.81 L358.70,424.11 L359.20,423.41 L359.70,422.72 L360.20,422.03 L360.70,421.36 L361.20,420.71 L361.70,420.08 L362.20,419.47 L362.70,418.89 L363.20,418.34 L363.70,417.82 L364.20,417.33 L364.70,416.89 L365.20,416.48 L365.70,416.12 L366.20,415.80 L366.70,415.53 L367.20,415.30 L367.70,415.13 L368.20,415.00 L368.70,414.93 L369.20,414.90 L369.70,414.93 L370.20,415.00 L370.70,415.13 L371.20,415.30 L371.70,415.53 L372.20,415.80 L372.70,416.12 L373.20,416.48 L373.70,416.89 L374.20,417.33 L374.70,417.82 L375.20,418.34 L375.70,418.89 L376.20,419.47 L376.70,420.08 L377.20,420.71 L377.70,421.36 L378.20,422.03 L378.70,422.72 L379.20,423.41 L379.70,424.11 L380.20,424.81 L380.70,425.51 L381.20,426.21 L381.70,426.90 L382.20,427.57 L382.70,428.23 L383.20,428.87 L383.70,429.49 L384.20,430.08 L384.70,430.65 L385.20,431.18 L385.70,431.68 L386.20,432.14 L386.70,432.56 L387.20,432.94 L387.70,433.28 L388.20,433.57 L388.70,433.81 L389.20,434.01 L389.70,434.15 L390.20,434.25 L390.70,434.30 L391.20,434.29 L391.70,434.24 L392.20,434.13 L392.70,433.97 L393.20,433.77 L393.70,433.51 L394.20,433.21 L394.70,432.87 L395.20,432.48 L395.70,432.05 L396.20,431.58 L396.70,431.08 L397.20,430.54 L397.70,429.97 L398.20,429.37 L398.70,428.75 L399.20,428.10 L399.70,427.44 L400.20,426.76 L400.70,426.07 L401.20,425.37 L401.70,424.67 L402.20,423.97 L402.70,423.27 L403.20,422.58 L403.70,421.90 L404.20,421.23 L404.70,420.58 L405.20,419.95 L405.70,419.35 L406.20,418.77 L406.70,418.23 L407.20,417.72 L407.70,417.24 L408.20,416.80 L408.70,416.41 L409.20,416.05 L409.70,415.74 L410.20,415.48 L410.70,415.26 L411.20,415.10 L411.70,414.98 L412.20,414.92 L412.70,414.90 L413.20,414.94 L413.70,415.02 L414.20,415.16 L414.70,415.34 L415.20,415.58 L415.70,415.86 L416.20,416.19 L416.70,416.56 L417.20,416.97 L417.70,417.43 L418.20,417.92 L418.70,418.44 L419.20,419.00 L419.70,419.59 L420.20,420.20 L420.70,420.84 L421.20,421.50 L421.70,422.17 L422.20,422.85 L422.70,423.55 L423.20,424.25 L423.70,424.95 L424.20,425.65 L424.70,426.35 L425.20,427.03 L425.70,427.70 L426.20,428.36 L426.70,429.00 L427.20,429.61 L427.70,430.20 L428.20,430.76 L428.70,431.28 L429.20,431.77 L429.70,432.23 L430.20,432.64 L430.70,433.01 L431.20,433.34 L431.70,433.62 L432.20,433.86 L432.70,434.04 L433.20,434.18 L433.70,434.26 L434.20,434.30 L434.30,434.30 C441.53,434.30 450.57,419.75 456.00,414.90 L456.00,496.7 L153,496.7 L153,414.90 Z" fill="rgba(0,128,0,0.2)"/>
<path d="M152.20,414.90 C157.62,419.75 166.67,434.30 173.90,434.30 L173.90,434.30 L174.40,434.27 L174.90,434.20 L175.40,434.07 L175.90,433.90 L176.40,433.67 L176.90,433.40 L177.40,433.08 L177.90,432.72 L178.40,432.31 L178.90,431.87 L179.40,431.38 L179.90,430.86 L180.40,430.31 L180.90,429.73 L181.40,429.12 L181.90,428.49 L182.40,427.84 L182.90,427.17 L183.40,426.48 L183.90,425.79 L184.40,425.09 L184.90,424.39 L185.40,423.69 L185.90,422.99 L186.40,422.30 L186.90,421.63 L187.40,420.97 L187.90,420.33 L188.40,419.71 L188.90,419.12 L189.40,418.55 L189.90,418.02 L190.40,417.52 L190.90,417.06 L191.40,416.64 L191.90,416.26 L192.40,415.92 L192.90,415.63 L193.40,415.39 L193.90,415.19 L194.40,415.05 L194.90,414.95 L195.40,414.90 L195.90,414.91 L196.40,414.96 L196.90,415.07 L197.40,415.23 L197.90,415.43 L198.40,415.69 L198.90,415.99 L199.40,416.33 L199.90,416.72 L200.40,417.15 L200.90,417.62 L201.40,418.12 L201.90,418.66 L202.40,419.23 L202.90,419.83 L203.40,420.45 L203.90,421.10 L204.40,421.76 L204.90,422.44 L205.40,423.13 L205.90,423.83 L206.40,424.53 L206.90,425.23 L207.40,425.93 L207.90,426.62 L208.40,427.30 L208.90,427.97 L209.40,428.62 L209.90,429.25 L210.40,429.85 L210.90,430.43 L211.40,430.97 L211.90,431.48 L212.40,431.96 L212.90,432.40 L213.40,432.79 L213.90,433.15 L214.40,433.46 L214.90,433.72 L215.40,433.94 L215.90,434.10 L216.40,434.22 L216.90,434.28 L217.30,434.30 C227.30,434.30 230.40,363.00 239.00,363.00 C247.60,363.00 250.70,434.30 260.70,434.30 L260.70,434.30 L261.20,434.27 L261.70,434.20 L262.20,434.07 L262.70,433.90 L263.20,433.67 L263.70,433.40 L264.20,433.08 L264.70,432.72 L265.20,432.31 L265.70,431.87 L266.20,431.38 L266.70,430.86 L267.20,430.31 L267.70,429.73 L268.20,429.12 L268.70,428.49 L269.20,427.84 L269.70,427.17 L270.20,426.48 L270.70,425.79 L271.20,425.09 L271.70,424.39 L272.20,423.69 L272.70,422.99 L273.20,422.30 L273.70,421.63 L274.20,420.97 L274.70,420.33 L275.20,419.71 L275.70,419.12 L276.20,418.55 L276.70,418.02 L277.20,417.52 L277.70,417.06 L278.20,416.64 L278.70,416.26 L279.20,415.92 L279.70,415.63 L280.20,415.39 L280.70,415.19 L281.20,415.05 L281.70,414.95 L282.20,414.90 L282.70,414.91 L283.20,414.96 L283.70,415.07 L284.20,415.23 L284.70,415.43 L285.20,415.69 L285.70,415.99 L286.20,416.33 L286.70,416.72 L287.20,417.15 L287.70,417.62 L288.20,418.12 L288.70,418.66 L289.20,419.23 L289.70,419.83 L290.20,420.45 L290.70,421.10 L291.20,421.76 L291.70,422.44 L292.20,423.13 L292.70,423.83 L293.20,424.53 L293.70,425.23 L294.20,425.93 L294.70,426.62 L295.20,427.30 L295.70,427.97 L296.20,428.62 L296.70,429.25 L297.20,429.85 L297.70,430.43 L298.20,430.97 L298.70,431.48 L299.20,431.96 L299.70,432.40 L300.20,432.79 L300.70,433.15 L301.20,433.46 L301.70,433.72 L302.20,433.94 L302.70,434.10 L303.20,434.22 L303.70,434.28 L304.20,434.30 L304.70,434.26 L305.20,434.18 L305.70,434.04 L306.20,433.86 L306.70,433.62 L307.20,433.34 L307.70,433.01 L308.20,432.64 L308.70,432.23 L309.20,431.77 L309.70,431.28 L310.20,430.76 L310.70,430.20 L311.20,429.61 L311.70,429.00 L312.20,428.36 L312.70,427.70 L313.20,427.03 L313.70,426.35 L314.20,425.65 L314.70,424.95 L315.20,424.25 L315.70,423.55 L316.20,422.85 L316.70,422.17 L317.20,421.50 L317.70,420.84 L318.20,420.20 L318.70,419.59 L319.20,419.00 L319.70,418.44 L320.20,417.92 L320.70,417.43 L321.20,416.97 L321.70,416.56 L322.20,416.19 L322.70,415.86 L323.20,415.58 L323.70,415.34 L324.20,415.16 L324.70,415.02 L325.20,414.94 L325.70,414.90 L326.20,414.92 L326.70,414.98 L327.20,415.10 L327.70,415.26 L328.20,415.48 L328.70,415.74 L329.20,416.05 L329.70,416.41 L330.20,416.80 L330.70,417.24 L331.20,417.72 L331.70,418.23 L332.20,418.77 L332.70,419.35 L333.20,419.95 L333.70,420.58 L334.20,421.23 L334.70,421.90 L335.20,422.58 L335.70,423.27 L336.20,423.97 L336.70,424.67 L337.20,425.37 L337.70,426.07 L338.20,426.76 L338.70,427.44 L339.20,428.10 L339.70,428.75 L340.20,429.37 L340.70,429.97 L341.20,430.54 L341.70,431.08 L342.20,431.58 L342.70,432.05 L343.20,432.48 L343.70,432.87 L344.20,433.21 L344.70,433.51 L345.20,433.77 L345.70,433.97 L346.20,434.13 L346.70,434.24 L347.20,434.29 L347.70,434.30 L348.20,434.25 L348.70,434.15 L349.20,434.01 L349.70,433.81 L350.20,433.57 L350.70,433.28 L351.20,432.94 L351.70,432.56 L352.20,432.14 L352.70,431.68 L353.20,431.18 L353.70,430.65 L354.20,430.08 L354.70,429.49 L355.20,428.87 L355.70,428.23 L356.20,427.57 L356.70,426.90 L357.20,426.21 L357.70,425.51 L358.20,424.81 L358.70,424.11 L359.20,423.41 L359.70,422.72 L360.20,422.03 L360.70,421.36 L361.20,420.71 L361.70,420.08 L362.20,419.47 L362.70,418.89 L363.20,418.34 L363.70,417.82 L364.20,417.33 L364.70,416.89 L365.20,416.48 L365.70,416.12 L366.20,415.80 L366.70,415.53 L367.20,415.30 L367.70,415.13 L368.20,415.00 L368.70,414.93 L369.20,414.90 L369.70,414.93 L370.20,415.00 L370.70,415.13 L371.20,415.30 L371.70,415.53 L372.20,415.80 L372.70,416.12 L373.20,416.48 L373.70,416.89 L374.20,417.33 L374.70,417.82 L375.20,418.34 L375.70,418.89 L376.20,419.47 L376.70,420.08 L377.20,420.71 L377.70,421.36 L378.20,422.03 L378.70,422.72 L379.20,423.41 L379.70,424.11 L380.20,424.81 L380.70,425.51 L381.20,426.21 L381.70,426.90 L382.20,427.57 L382.70,428.23 L383.20,428.87 L383.70,429.49 L384.20,430.08 L384.70,430.65 L385.20,431.18 L385.70,431.68 L386.20,432.14 L386.70,432.56 L387.20,432.94 L387.70,433.28 L388.20,433.57 L388.70,433.81 L389.20,434.01 L389.70,434.15 L390.20,434.25 L390.70,434.30 L391.20,434.29 L391.70,434.24 L392.20,434.13 L392.70,433.97 L393.20,433.77 L393.70,433.51 L394.20,433.21 L394.70,432.87 L395.20,432.48 L395.70,432.05 L396.20,431.58 L396.70,431.08 L397.20,430.54 L397.70,429.97 L398.20,429.37 L398.70,428.75 L399.20,428.10 L399.70,427.44 L400.20,426.76 L400.70,426.07 L401.20,425.37 L401.70,424.67 L402.20,423.97 L402.70,423.27 L403.20,422.58 L403.70,421.90 L404.20,421.23 L404.70,420.58 L405.20,419.95 L405.70,419.35 L406.20,418.77 L406.70,418.23 L407.20,417.72 L407.70,417.24 L408.20,416.80 L408.70,416.41 L409.20,416.05 L409.70,415.74 L410.20,415.48 L410.70,415.26 L411.20,415.10 L411.70,414.98 L412.20,414.92 L412.70,414.90 L413.20,414.94 L413.70,415.02 L414.20,415.16 L414.70,415.34 L415.20,415.58 L415.70,415.86 L416.20,416.19 L416.70,416.56 L417.20,416.97 L417.70,417.43 L418.20,417.92 L418.70,418.44 L419.20,419.00 L419.70,419.59 L420.20,420.20 L420.70,420.84 L421.20,421.50 L421.70,422.17 L422.20,422.85 L422.70,423.55 L423.20,424.25 L423.70,424.95 L424.20,425.65 L424.70,426.35 L425.20,427.03 L425.70,427.70 L426.20,428.36 L426.70,429.00 L427.20,429.61 L427.70,430.20 L428.20,430.76 L428.70,431.28 L429.20,431.77 L429.70,432.23 L430.20,432.64 L430.70,433.01 L431.20,433.34 L431.70,433.62 L432.20,433.86 L432.70,434.04 L433.20,434.18 L433.70,434.26 L434.20,434.30 L434.30,434.30 C441.53,434.30 450.57,419.75 456.00,414.90" fill="none" stroke="#000" stroke-width="5.3" stroke-linejoin="round"/>
<g stroke="#d9d9d9" stroke-width="1.3"><line x1="493.0" y1="361.00" x2="800.0" y2="361.00"/><line x1="493.0" y1="380.29" x2="800.0" y2="380.29"/><line x1="493.0" y1="399.57" x2="800.0" y2="399.57"/><line x1="493.0" y1="418.86" x2="800.0" y2="418.86"/><line x1="493.0" y1="438.14" x2="800.0" y2="438.14"/><line x1="493.0" y1="457.43" x2="800.0" y2="457.43"/><line x1="493.0" y1="476.71" x2="800.0" y2="476.71"/><line x1="493.0" y1="496.00" x2="800.0" y2="496.00"/></g>
<path d="M493.60,414.90 C499.03,419.75 508.07,434.30 515.30,434.30 L515.30,434.30 L515.80,434.27 L516.30,434.20 L516.80,434.07 L517.30,433.90 L517.80,433.67 L518.30,433.40 L518.80,433.08 L519.30,432.72 L519.80,432.31 L520.30,431.87 L520.80,431.38 L521.30,430.86 L521.80,430.31 L522.30,429.73 L522.80,429.12 L523.30,428.49 L523.80,427.84 L524.30,427.17 L524.80,426.48 L525.30,425.79 L525.80,425.09 L526.30,424.39 L526.80,423.69 L527.30,422.99 L527.80,422.30 L528.30,421.63 L528.80,420.97 L529.30,420.33 L529.80,419.71 L530.30,419.12 L530.80,418.55 L531.30,418.02 L531.80,417.52 L532.30,417.06 L532.80,416.64 L533.30,416.26 L533.80,415.92 L534.30,415.63 L534.80,415.39 L535.30,415.19 L535.80,415.05 L536.30,414.95 L536.80,414.90 L537.30,414.91 L537.80,414.96 L538.30,415.07 L538.80,415.23 L539.30,415.43 L539.80,415.69 L540.30,415.99 L540.80,416.33 L541.30,416.72 L541.80,417.15 L542.30,417.62 L542.80,418.12 L543.30,418.66 L543.80,419.23 L544.30,419.83 L544.80,420.45 L545.30,421.10 L545.80,421.76 L546.30,422.44 L546.80,423.13 L547.30,423.83 L547.80,424.53 L548.30,425.23 L548.80,425.93 L549.30,426.62 L549.80,427.30 L550.30,427.97 L550.80,428.62 L551.30,429.25 L551.80,429.85 L552.30,430.43 L552.80,430.97 L553.30,431.48 L553.80,431.96 L554.30,432.40 L554.80,432.79 L555.30,433.15 L555.80,433.46 L556.30,433.72 L556.80,433.94 L557.30,434.10 L557.80,434.22 L558.30,434.28 L558.70,434.30 C568.70,434.30 571.80,363.00 580.40,363.00 C589.00,363.00 592.10,434.30 602.10,434.30 L602.10,434.30 L602.60,434.27 L603.10,434.20 L603.60,434.07 L604.10,433.90 L604.60,433.67 L605.10,433.40 L605.60,433.08 L606.10,432.72 L606.60,432.31 L607.10,431.87 L607.60,431.38 L608.10,430.86 L608.60,430.31 L609.10,429.73 L609.60,429.12 L610.10,428.49 L610.60,427.84 L611.10,427.17 L611.60,426.48 L612.10,425.79 L612.60,425.09 L613.10,424.39 L613.60,423.69 L614.10,422.99 L614.60,422.30 L615.10,421.63 L615.60,420.97 L616.10,420.33 L616.60,419.71 L617.10,419.12 L617.60,418.55 L618.10,418.02 L618.60,417.52 L619.10,417.06 L619.60,416.64 L620.10,416.26 L620.60,415.92 L621.10,415.63 L621.60,415.39 L622.10,415.19 L622.60,415.05 L623.10,414.95 L623.60,414.90 L624.10,414.91 L624.60,414.96 L625.10,415.07 L625.60,415.23 L626.10,415.43 L626.60,415.69 L627.10,415.99 L627.60,416.33 L628.10,416.72 L628.60,417.15 L629.10,417.62 L629.60,418.12 L630.10,418.66 L630.60,419.23 L631.10,419.83 L631.60,420.45 L632.10,421.10 L632.60,421.76 L633.10,422.44 L633.60,423.13 L634.10,423.83 L634.60,424.53 L635.10,425.23 L635.60,425.93 L636.10,426.62 L636.60,427.30 L637.10,427.97 L637.60,428.62 L638.10,429.25 L638.60,429.85 L639.10,430.43 L639.60,430.97 L640.10,431.48 L640.60,431.96 L641.10,432.40 L641.60,432.79 L642.10,433.15 L642.60,433.46 L643.10,433.72 L643.60,433.94 L644.10,434.10 L644.60,434.22 L645.10,434.28 L645.60,434.30 L646.10,434.26 L646.60,434.18 L647.10,434.04 L647.60,433.86 L648.10,433.62 L648.60,433.34 L649.10,433.01 L649.60,432.64 L650.10,432.23 L650.60,431.77 L651.10,431.28 L651.60,430.76 L652.10,430.20 L652.60,429.61 L653.10,429.00 L653.60,428.36 L654.10,427.70 L654.60,427.03 L655.10,426.35 L655.60,425.65 L656.10,424.95 L656.60,424.25 L657.10,423.55 L657.60,422.85 L658.10,422.17 L658.60,421.50 L659.10,420.84 L659.60,420.20 L660.10,419.59 L660.60,419.00 L661.10,418.44 L661.60,417.92 L662.10,417.43 L662.60,416.97 L663.10,416.56 L663.60,416.19 L664.10,415.86 L664.60,415.58 L665.10,415.34 L665.60,415.16 L666.10,415.02 L666.60,414.94 L667.10,414.90 L667.60,414.92 L668.10,414.98 L668.60,415.10 L669.10,415.26 L669.60,415.48 L670.10,415.74 L670.60,416.05 L671.10,416.41 L671.60,416.80 L672.10,417.24 L672.60,417.72 L673.10,418.23 L673.60,418.77 L674.10,419.35 L674.60,419.95 L675.10,420.58 L675.60,421.23 L676.10,421.90 L676.60,422.58 L677.10,423.27 L677.60,423.97 L678.10,424.67 L678.60,425.37 L679.10,426.07 L679.60,426.76 L680.10,427.44 L680.60,428.10 L681.10,428.75 L681.60,429.37 L682.10,429.97 L682.60,430.54 L683.10,431.08 L683.60,431.58 L684.10,432.05 L684.60,432.48 L685.10,432.87 L685.60,433.21 L686.10,433.51 L686.60,433.77 L687.10,433.97 L687.60,434.13 L688.10,434.24 L688.60,434.29 L689.10,434.30 L689.60,434.25 L690.10,434.15 L690.60,434.01 L691.10,433.81 L691.60,433.57 L692.10,433.28 L692.60,432.94 L693.10,432.56 L693.60,432.14 L694.10,431.68 L694.60,431.18 L695.10,430.65 L695.60,430.08 L696.10,429.49 L696.60,428.87 L697.10,428.23 L697.60,427.57 L698.10,426.90 L698.60,426.21 L699.10,425.51 L699.60,424.81 L700.10,424.11 L700.60,423.41 L701.10,422.72 L701.60,422.03 L702.10,421.36 L702.60,420.71 L703.10,420.08 L703.60,419.47 L704.10,418.89 L704.60,418.34 L705.10,417.82 L705.60,417.33 L706.10,416.89 L706.60,416.48 L707.10,416.12 L707.60,415.80 L708.10,415.53 L708.60,415.30 L709.10,415.13 L709.60,415.00 L710.10,414.93 L710.60,414.90 L711.10,414.93 L711.60,415.00 L712.10,415.13 L712.60,415.30 L713.10,415.53 L713.60,415.80 L714.10,416.12 L714.60,416.48 L715.10,416.89 L715.60,417.33 L716.10,417.82 L716.60,418.34 L717.10,418.89 L717.60,419.47 L718.10,420.08 L718.60,420.71 L719.10,421.36 L719.60,422.03 L720.10,422.72 L720.60,423.41 L721.10,424.11 L721.60,424.81 L722.10,425.51 L722.60,426.21 L723.10,426.90 L723.60,427.57 L724.10,428.23 L724.60,428.87 L725.10,429.49 L725.60,430.08 L726.10,430.65 L726.60,431.18 L727.10,431.68 L727.60,432.14 L728.10,432.56 L728.60,432.94 L729.10,433.28 L729.60,433.57 L730.10,433.81 L730.60,434.01 L731.10,434.15 L731.60,434.25 L732.10,434.30 L732.60,434.29 L733.10,434.24 L733.60,434.13 L734.10,433.97 L734.60,433.77 L735.10,433.51 L735.60,433.21 L736.10,432.87 L736.60,432.48 L737.10,432.05 L737.60,431.58 L738.10,431.08 L738.60,430.54 L739.10,429.97 L739.60,429.37 L740.10,428.75 L740.60,428.10 L741.10,427.44 L741.60,426.76 L742.10,426.07 L742.60,425.37 L743.10,424.67 L743.60,423.97 L744.10,423.27 L744.60,422.58 L745.10,421.90 L745.60,421.23 L746.10,420.58 L746.60,419.95 L747.10,419.35 L747.60,418.77 L748.10,418.23 L748.60,417.72 L749.10,417.24 L749.60,416.80 L750.10,416.41 L750.60,416.05 L751.10,415.74 L751.60,415.48 L752.10,415.26 L752.60,415.10 L753.10,414.98 L753.60,414.92 L754.10,414.90 L754.60,414.94 L755.10,415.02 L755.60,415.16 L756.10,415.34 L756.60,415.58 L757.10,415.86 L757.60,416.19 L758.10,416.56 L758.60,416.97 L759.10,417.43 L759.60,417.92 L760.10,418.44 L760.60,419.00 L761.10,419.59 L761.60,420.20 L762.10,420.84 L762.60,421.50 L763.10,422.17 L763.60,422.85 L764.10,423.55 L764.60,424.25 L765.10,424.95 L765.60,425.65 L766.10,426.35 L766.60,427.03 L767.10,427.70 L767.60,428.36 L768.10,429.00 L768.60,429.61 L769.10,430.20 L769.60,430.76 L770.10,431.28 L770.60,431.77 L771.10,432.23 L771.60,432.64 L772.10,433.01 L772.60,433.34 L773.10,433.62 L773.60,433.86 L774.10,434.04 L774.60,434.18 L775.10,434.26 L775.60,434.30 L775.70,434.30 C782.93,434.30 791.98,419.75 797.40,414.90 L797.40,496.7 L495,496.7 L495,414.90 Z" fill="rgba(0,128,0,0.2)"/>
<path d="M493.60,414.90 C499.03,419.75 508.07,434.30 515.30,434.30 L515.30,434.30 L515.80,434.27 L516.30,434.20 L516.80,434.07 L517.30,433.90 L517.80,433.67 L518.30,433.40 L518.80,433.08 L519.30,432.72 L519.80,432.31 L520.30,431.87 L520.80,431.38 L521.30,430.86 L521.80,430.31 L522.30,429.73 L522.80,429.12 L523.30,428.49 L523.80,427.84 L524.30,427.17 L524.80,426.48 L525.30,425.79 L525.80,425.09 L526.30,424.39 L526.80,423.69 L527.30,422.99 L527.80,422.30 L528.30,421.63 L528.80,420.97 L529.30,420.33 L529.80,419.71 L530.30,419.12 L530.80,418.55 L531.30,418.02 L531.80,417.52 L532.30,417.06 L532.80,416.64 L533.30,416.26 L533.80,415.92 L534.30,415.63 L534.80,415.39 L535.30,415.19 L535.80,415.05 L536.30,414.95 L536.80,414.90 L537.30,414.91 L537.80,414.96 L538.30,415.07 L538.80,415.23 L539.30,415.43 L539.80,415.69 L540.30,415.99 L540.80,416.33 L541.30,416.72 L541.80,417.15 L542.30,417.62 L542.80,418.12 L543.30,418.66 L543.80,419.23 L544.30,419.83 L544.80,420.45 L545.30,421.10 L545.80,421.76 L546.30,422.44 L546.80,423.13 L547.30,423.83 L547.80,424.53 L548.30,425.23 L548.80,425.93 L549.30,426.62 L549.80,427.30 L550.30,427.97 L550.80,428.62 L551.30,429.25 L551.80,429.85 L552.30,430.43 L552.80,430.97 L553.30,431.48 L553.80,431.96 L554.30,432.40 L554.80,432.79 L555.30,433.15 L555.80,433.46 L556.30,433.72 L556.80,433.94 L557.30,434.10 L557.80,434.22 L558.30,434.28 L558.70,434.30 C568.70,434.30 571.80,363.00 580.40,363.00 C589.00,363.00 592.10,434.30 602.10,434.30 L602.10,434.30 L602.60,434.27 L603.10,434.20 L603.60,434.07 L604.10,433.90 L604.60,433.67 L605.10,433.40 L605.60,433.08 L606.10,432.72 L606.60,432.31 L607.10,431.87 L607.60,431.38 L608.10,430.86 L608.60,430.31 L609.10,429.73 L609.60,429.12 L610.10,428.49 L610.60,427.84 L611.10,427.17 L611.60,426.48 L612.10,425.79 L612.60,425.09 L613.10,424.39 L613.60,423.69 L614.10,422.99 L614.60,422.30 L615.10,421.63 L615.60,420.97 L616.10,420.33 L616.60,419.71 L617.10,419.12 L617.60,418.55 L618.10,418.02 L618.60,417.52 L619.10,417.06 L619.60,416.64 L620.10,416.26 L620.60,415.92 L621.10,415.63 L621.60,415.39 L622.10,415.19 L622.60,415.05 L623.10,414.95 L623.60,414.90 L624.10,414.91 L624.60,414.96 L625.10,415.07 L625.60,415.23 L626.10,415.43 L626.60,415.69 L627.10,415.99 L627.60,416.33 L628.10,416.72 L628.60,417.15 L629.10,417.62 L629.60,418.12 L630.10,418.66 L630.60,419.23 L631.10,419.83 L631.60,420.45 L632.10,421.10 L632.60,421.76 L633.10,422.44 L633.60,423.13 L634.10,423.83 L634.60,424.53 L635.10,425.23 L635.60,425.93 L636.10,426.62 L636.60,427.30 L637.10,427.97 L637.60,428.62 L638.10,429.25 L638.60,429.85 L639.10,430.43 L639.60,430.97 L640.10,431.48 L640.60,431.96 L641.10,432.40 L641.60,432.79 L642.10,433.15 L642.60,433.46 L643.10,433.72 L643.60,433.94 L644.10,434.10 L644.60,434.22 L645.10,434.28 L645.60,434.30 L646.10,434.26 L646.60,434.18 L647.10,434.04 L647.60,433.86 L648.10,433.62 L648.60,433.34 L649.10,433.01 L649.60,432.64 L650.10,432.23 L650.60,431.77 L651.10,431.28 L651.60,430.76 L652.10,430.20 L652.60,429.61 L653.10,429.00 L653.60,428.36 L654.10,427.70 L654.60,427.03 L655.10,426.35 L655.60,425.65 L656.10,424.95 L656.60,424.25 L657.10,423.55 L657.60,422.85 L658.10,422.17 L658.60,421.50 L659.10,420.84 L659.60,420.20 L660.10,419.59 L660.60,419.00 L661.10,418.44 L661.60,417.92 L662.10,417.43 L662.60,416.97 L663.10,416.56 L663.60,416.19 L664.10,415.86 L664.60,415.58 L665.10,415.34 L665.60,415.16 L666.10,415.02 L666.60,414.94 L667.10,414.90 L667.60,414.92 L668.10,414.98 L668.60,415.10 L669.10,415.26 L669.60,415.48 L670.10,415.74 L670.60,416.05 L671.10,416.41 L671.60,416.80 L672.10,417.24 L672.60,417.72 L673.10,418.23 L673.60,418.77 L674.10,419.35 L674.60,419.95 L675.10,420.58 L675.60,421.23 L676.10,421.90 L676.60,422.58 L677.10,423.27 L677.60,423.97 L678.10,424.67 L678.60,425.37 L679.10,426.07 L679.60,426.76 L680.10,427.44 L680.60,428.10 L681.10,428.75 L681.60,429.37 L682.10,429.97 L682.60,430.54 L683.10,431.08 L683.60,431.58 L684.10,432.05 L684.60,432.48 L685.10,432.87 L685.60,433.21 L686.10,433.51 L686.60,433.77 L687.10,433.97 L687.60,434.13 L688.10,434.24 L688.60,434.29 L689.10,434.30 L689.60,434.25 L690.10,434.15 L690.60,434.01 L691.10,433.81 L691.60,433.57 L692.10,433.28 L692.60,432.94 L693.10,432.56 L693.60,432.14 L694.10,431.68 L694.60,431.18 L695.10,430.65 L695.60,430.08 L696.10,429.49 L696.60,428.87 L697.10,428.23 L697.60,427.57 L698.10,426.90 L698.60,426.21 L699.10,425.51 L699.60,424.81 L700.10,424.11 L700.60,423.41 L701.10,422.72 L701.60,422.03 L702.10,421.36 L702.60,420.71 L703.10,420.08 L703.60,419.47 L704.10,418.89 L704.60,418.34 L705.10,417.82 L705.60,417.33 L706.10,416.89 L706.60,416.48 L707.10,416.12 L707.60,415.80 L708.10,415.53 L708.60,415.30 L709.10,415.13 L709.60,415.00 L710.10,414.93 L710.60,414.90 L711.10,414.93 L711.60,415.00 L712.10,415.13 L712.60,415.30 L713.10,415.53 L713.60,415.80 L714.10,416.12 L714.60,416.48 L715.10,416.89 L715.60,417.33 L716.10,417.82 L716.60,418.34 L717.10,418.89 L717.60,419.47 L718.10,420.08 L718.60,420.71 L719.10,421.36 L719.60,422.03 L720.10,422.72 L720.60,423.41 L721.10,424.11 L721.60,424.81 L722.10,425.51 L722.60,426.21 L723.10,426.90 L723.60,427.57 L724.10,428.23 L724.60,428.87 L725.10,429.49 L725.60,430.08 L726.10,430.65 L726.60,431.18 L727.10,431.68 L727.60,432.14 L728.10,432.56 L728.60,432.94 L729.10,433.28 L729.60,433.57 L730.10,433.81 L730.60,434.01 L731.10,434.15 L731.60,434.25 L732.10,434.30 L732.60,434.29 L733.10,434.24 L733.60,434.13 L734.10,433.97 L734.60,433.77 L735.10,433.51 L735.60,433.21 L736.10,432.87 L736.60,432.48 L737.10,432.05 L737.60,431.58 L738.10,431.08 L738.60,430.54 L739.10,429.97 L739.60,429.37 L740.10,428.75 L740.60,428.10 L741.10,427.44 L741.60,426.76 L742.10,426.07 L742.60,425.37 L743.10,424.67 L743.60,423.97 L744.10,423.27 L744.60,422.58 L745.10,421.90 L745.60,421.23 L746.10,420.58 L746.60,419.95 L747.10,419.35 L747.60,418.77 L748.10,418.23 L748.60,417.72 L749.10,417.24 L749.60,416.80 L750.10,416.41 L750.60,416.05 L751.10,415.74 L751.60,415.48 L752.10,415.26 L752.60,415.10 L753.10,414.98 L753.60,414.92 L754.10,414.90 L754.60,414.94 L755.10,415.02 L755.60,415.16 L756.10,415.34 L756.60,415.58 L757.10,415.86 L757.60,416.19 L758.10,416.56 L758.60,416.97 L759.10,417.43 L759.60,417.92 L760.10,418.44 L760.60,419.00 L761.10,419.59 L761.60,420.20 L762.10,420.84 L762.60,421.50 L763.10,422.17 L763.60,422.85 L764.10,423.55 L764.60,424.25 L765.10,424.95 L765.60,425.65 L766.10,426.35 L766.60,427.03 L767.10,427.70 L767.60,428.36 L768.10,429.00 L768.60,429.61 L769.10,430.20 L769.60,430.76 L770.10,431.28 L770.60,431.77 L771.10,432.23 L771.60,432.64 L772.10,433.01 L772.60,433.34 L773.10,433.62 L773.60,433.86 L774.10,434.04 L774.60,434.18 L775.10,434.26 L775.60,434.30 L775.70,434.30 C782.93,434.30 791.98,419.75 797.40,414.90" fill="none" stroke="#000" stroke-width="5.3" stroke-linejoin="round"/>
<g font-weight="bold" font-size="22" stroke="#000" stroke-width="0.35">
<text x="120.4" y="58" font-size="22" >10</text>
<text x="126.5" y="196" font-size="22" >0</text>
<text x="459.5" y="58" font-size="22" >0.1</text>
<text x="475" y="196" font-size="22" >0</text>
<text x="126.2" y="369" font-size="22" >1</text>
<text x="126.3" y="502" font-size="22" >0</text>
<text x="470.8" y="368" font-size="22" >1</text>
<text x="470" y="502" font-size="22" >0</text>
</g>
<g stroke="#000" stroke-width="0.35">
<text x="0" y="0" font-size="27.2" text-anchor="middle" transform="translate(110.5,119) rotate(-90)">quant. levels</text>
<text x="0" y="0" font-size="27.2" text-anchor="middle" transform="translate(110.5,428) rotate(-90)">quant. levels</text>
</g>
<rect x="329.30" y="12.50" width="2.7" height="28.50" fill="#000"/><rect x="369.90" y="12.50" width="2.7" height="28.50" fill="#000"/>
<rect x="668.00" y="12.50" width="2.7" height="28.50" fill="#000"/><rect x="716.60" y="12.50" width="2.7" height="28.50" fill="#000"/>
<rect x="329.30" y="322.60" width="2.7" height="28.20" fill="#000"/><rect x="369.80" y="322.60" width="2.7" height="28.20" fill="#000"/>
<rect x="667.30" y="322.80" width="2.7" height="28.00" fill="#000"/><rect x="716.90" y="322.80" width="2.7" height="28.00" fill="#000"/>
<g font-weight="bold" stroke="#000" stroke-width="0.35">
<text x="339.5" y="35" font-size="32" >X</text>
<text x="677.5" y="35.3" font-size="32" >W</text>
<text x="338.5" y="345.8" font-size="32" >X</text>
<text x="677.5" y="346.3" font-size="32" >W</text>
</g>
<path d="M344.9,320.4 L349.6,315.5 L354.3,320.4" fill="none" stroke="#000" stroke-width="1.75"/>
<path d="M687.3,320.8 L692.2,315.5 L697.2,320.8" fill="none" stroke="#000" stroke-width="1.75"/>
<g fill="#b3261a" stroke="#b3261a" stroke-width="0.35">
<text x="165" y="24" font-size="30.9" >outlier</text>
<text x="255.8" y="109.8" font-size="30.6" >low effective bits</text>
<text x="170.5" y="332.6" font-size="30.5" >smoothed</text>
<text x="380.5" y="318.3" font-size="30.6" >migrate difficulty</text>
</g>
<g stroke="#000" stroke-width="0.35">
<text x="196" y="221" font-size="32"><tspan font-weight="bold" fill="#b3261a" stroke="#b3261a">hard</tspan> to quantize</text>
<text x="507.8" y="221.5" font-size="32"><tspan font-weight="bold" fill="#2aa52a" stroke="#2aa52a">very easy</tspan> to quantize</text>
<text x="200" y="529" font-size="32"><tspan font-weight="bold" fill="#2aa52a" stroke="#2aa52a">easy</tspan> to quantize</text>
<text x="541.5" y="529" font-size="32"><tspan font-weight="bold" fill="#2aa52a" stroke="#2aa52a">easy</tspan> to quantize</text>
<text x="389.5" y="269" font-size="35" >(a) Original</text>
<text x="357.5" y="583" font-size="35" >(b) SmoothQuant</text>
</g>
<path d="M184,28.6 C186.5,46 202,55.5 219,55.5" fill="none" stroke="#b3261a" stroke-width="1.7"/><path d="M227.00,54.60 L218.90,59.68 L218.10,51.12 Z" fill="#b3261a"/>
<path d="M307.5,117 C302,128 298.5,138 298.3,149" fill="none" stroke="#b3261a" stroke-width="1.7"/><path d="M298.30,156.00 L294.00,148.00 L302.60,148.00 Z" fill="#b3261a"/>
<path d="M324.5,116.5 C320.5,126 319.2,136 319.3,147" fill="none" stroke="#b3261a" stroke-width="1.7"/><path d="M319.30,154.70 L314.80,146.40 L323.40,146.20 Z" fill="#b3261a"/>
<path d="M341.8,117 L341.9,140" fill="none" stroke="#b3261a" stroke-width="1.7"/><path d="M342.00,148.00 L337.70,139.70 L346.30,139.70 Z" fill="#b3261a"/>
<path d="M355.3,116.7 C361,127 364.5,136 365,148" fill="none" stroke="#b3261a" stroke-width="1.7"/><path d="M365.20,156.00 L360.80,147.35 L369.40,147.25 Z" fill="#b3261a"/>
<path d="M376,116.7 C381,127 384.5,137 385.3,149" fill="none" stroke="#b3261a" stroke-width="1.7"/><path d="M385.70,157.00 L381.20,148.40 L389.80,148.20 Z" fill="#b3261a"/>
<path d="M198.6,339.2 C197.8,354 206,365.5 219,366.6" fill="none" stroke="#b3261a" stroke-width="1.7"/><path d="M227.50,366.80 L218.55,371.00 L218.65,362.40 Z" fill="#b3261a"/>
<path d="M424.5,351.5 C445,327 495,322 521,349" fill="none" stroke="#b3261a" stroke-width="1.7"/><path d="M527.00,354.70 L517.37,350.75 L523.63,344.85 Z" fill="#b3261a"/>
</svg>
<div class="cap" id="c0" style="top:646.00px;word-spacing:-0.389px"><span id="s0">Figure 2: SmoothQuant&#8217;s intuition: the activation <span class="mb" style="width:28.5px"><span class="g" style="transform:scaleX(1.055)">X</span></span> is hard</span></div>
<div class="cap" id="c1" style="top:687.30px;word-spacing:1.913px"><span id="s1">to quantize because outliers stretch the quantization range,</span></div>
<div class="cap" id="c2" style="top:728.60px;word-spacing:2.016px"><span id="s2">leaving few effective bits for most values. We migrate the</span></div>
<div class="cap" id="c3" style="top:769.90px;word-spacing:-1.672px"><span id="s3">scale variance from activations to weights <span class="mb" style="width:41.5px"><span class="g" style="transform:scaleX(1.117)">W</span></span> during offline</span></div>
<div class="cap" id="c4" style="top:811.20px;word-spacing:5.871px"><span id="s4">to reduce the quantization difficulty of activations.&#160; The</span></div>
<div class="cap" id="c5" style="top:852.50px;word-spacing:-0.792px"><span id="s5">smoothed activation <span class="mb" style="width:28.5px"><span class="g" style="transform:scaleX(1.055)">X</span><svg class="hat" width="10.2" height="6.6" style="left:9.20px;top:-20.20px" viewBox="0 0 10.2 6.6"><path d="M0.6,5.90 L5.10,0.7 L9.60,5.90" fill="none" stroke="#000" stroke-width="1.35"/></svg></span> and the adjusted weight <span class="mb" style="width:41.5px"><span class="g" style="transform:scaleX(1.117)">W</span><svg class="hat" width="10.6" height="6.7" style="left:15.90px;top:-20.80px" viewBox="0 0 10.6 6.7"><path d="M0.6,6.00 L5.30,0.7 L10.00,6.00" fill="none" stroke="#000" stroke-width="1.35"/></svg></span> are both</span></div>
<div class="cap" id="c6" style="top:893.80px;word-spacing:0.000px"><span id="s6">easy to quantize.</span></div>
</body></html>
